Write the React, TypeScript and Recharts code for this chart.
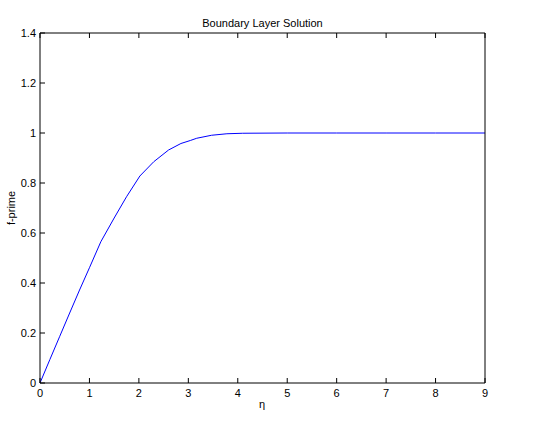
import { Line, LineChart, XAxis, YAxis } from "recharts";

const ETA = [0, 0.2, 0.4, 0.6, 0.8, 1.0, 1.23, 1.5, 1.75, 2.02, 2.3, 2.6, 2.85, 3.04, 3.17, 3.47, 3.78, 4.1, 5, 6, 7, 8, 9];
const FPRIME = [0, 0.094, 0.187, 0.28, 0.372, 0.461, 0.565, 0.66, 0.745, 0.828, 0.885, 0.932, 0.958, 0.97, 0.979, 0.991, 0.997, 0.999, 1, 1, 1, 1, 1];
const X_TICKS = [0, 1, 2, 3, 4, 5, 6, 7, 8, 9];
const Y_TICKS = [0, 0.2, 0.4, 0.6, 0.8, 1, 1.2, 1.4];
const Y_LABELS = ["0", "0.2", "0.4", "0.6", "0.8", "1", "1.2", "1.4"];

const data = ETA.map((eta, i) => ({ eta, f: FPRIME[i] }));

const FONT = "'Liberation Sans', Arial, Helvetica, sans-serif";
const TICK_LEN = 5;
const W = 541;
const H = 432;
// top/right axes get 1px of room so Recharts still draws them
const margin = { top: 32, right: 55, bottom: 0, left: 0 };

// MATLAB style: tick marks point into the box, labels sit outside
function BottomTick(props: any) {
  const { x, y, payload } = props;
  return (
    <g>
      <line x1={x} y1={y} x2={x} y2={y - TICK_LEN} stroke="#000" />
      <text x={x} y={y + 14} textAnchor="middle" fontSize={11} fontFamily={FONT} fill="#000">
        {payload.value}
      </text>
    </g>
  );
}

function TopTick(props: any) {
  const { x, y } = props;
  return <line x1={x} y1={y} x2={x} y2={y + TICK_LEN} stroke="#000" />;
}

function LeftTick(props: any) {
  const { x, y, payload } = props;
  const idx = Y_TICKS.indexOf(payload.value);
  return (
    <g>
      <line x1={x} y1={y} x2={x + TICK_LEN} y2={y} stroke="#000" />
      <text x={x - 4} y={y + 4} textAnchor="end" fontSize={11} fontFamily={FONT} fill="#000">
        {idx >= 0 ? Y_LABELS[idx] : payload.value}
      </text>
    </g>
  );
}

function RightTick(props: any) {
  const { x, y } = props;
  return <line x1={x} y1={y} x2={x - TICK_LEN} y2={y} stroke="#000" />;
}

export default function App() {
  return (
    <div style={{ position: "absolute", left: 0, top: 0, width: W, height: H, background: "#fff" }}>
      <LineChart width={W} height={H} data={data} margin={margin}>
        <XAxis
          xAxisId="b"
          dataKey="eta"
          type="number"
          domain={[0, 9]}
          ticks={X_TICKS}
          interval={0}
          height={49}
          tickSize={0}
          tickMargin={0}
          axisLine={{ stroke: "#000" }}
          tick={(p: any) => <BottomTick {...p} />}
        />
        <XAxis
          xAxisId="t"
          orientation="top"
          dataKey="eta"
          type="number"
          domain={[0, 9]}
          ticks={X_TICKS}
          interval={0}
          height={1}
          tickSize={0}
          tickMargin={0}
          axisLine={{ stroke: "#000" }}
          tick={(p: any) => <TopTick {...p} />}
        />
        <YAxis
          yAxisId="l"
          type="number"
          domain={[0, 1.4]}
          ticks={Y_TICKS}
          interval={0}
          width={40}
          tickSize={0}
          tickMargin={0}
          axisLine={{ stroke: "#000" }}
          tick={(p: any) => <LeftTick {...p} />}
        />
        <YAxis
          yAxisId="r"
          orientation="right"
          type="number"
          domain={[0, 1.4]}
          ticks={Y_TICKS}
          interval={0}
          width={1}
          tickSize={0}
          tickMargin={0}
          axisLine={{ stroke: "#000" }}
          tick={(p: any) => <RightTick {...p} />}
        />
        <Line
          xAxisId="b"
          yAxisId="l"
          type="linear"
          dataKey="f"
          stroke="#0000ff"
          strokeWidth={1}
          dot={false}
          activeDot={false}
          isAnimationActive={false}
        />
      </LineChart>
      <svg width={W} height={H} style={{ position: "absolute", left: 0, top: 0, pointerEvents: "none" }}>
        <text x={262.5} y={27} textAnchor="middle" fontSize={11} fontFamily={FONT} fill="#000">
          Boundary Layer Solution
        </text>
        <text x={262} y={408} textAnchor="middle" fontSize={11} fontFamily={FONT} fill="#000">
          η
        </text>
        <text
          x={15}
          y={208}
          textAnchor="middle"
          fontSize={11}
          fontFamily={FONT}
          fill="#000"
          transform="rotate(-90 15 208)"
        >
          f-prime
        </text>
      </svg>
    </div>
  );
}
